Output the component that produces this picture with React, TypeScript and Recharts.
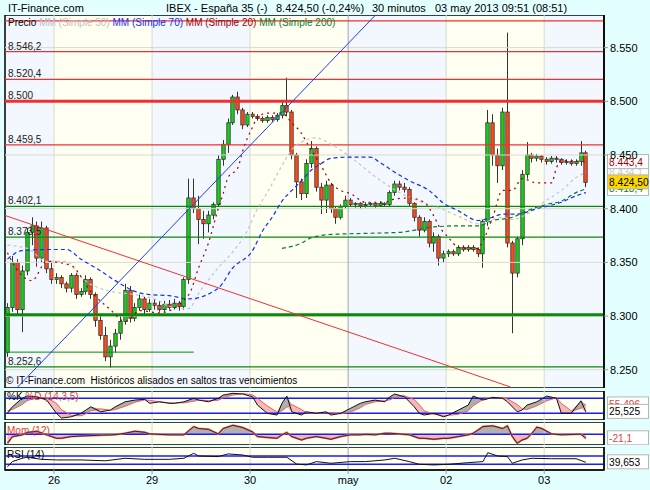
import React from "react";
import {
  ComposedChart,
  Bar,
  Line,
  Area,
  XAxis,
  YAxis,
  ReferenceLine,
  ReferenceArea,
} from "recharts";

const FONT = "'Liberation Sans', Arial, sans-serif";
const X_DOMAIN: [number, number] = [-0.5, 121.7];
const PRICE_DOMAIN: [number, number] = [8233, 8580.4];

// day boundaries (bar index) and axis labels
const dayTicks = [9.5, 29.5, 49.5, 69.5, 89.5, 109.5];
const dayLabels = ["26", "29", "30", "may", "02", "03"];
const dayEdges = [-0.5, 9.5, 29.5, 49.5, 69.5, 89.5, 109.5, 121.7];
const priceTicks = [8250, 8300, 8350, 8400, 8450, 8500, 8550];

// 30 minute candles
const opens = [
  8266, 8308, 8350, 8306, 8342, 8378, 8384, 8354, 8382, 8344, 8334, 8336, 8330, 8326, 8338, 8320, 8323, 8334, 8320, 8296,
  8282, 8262, 8272, 8284, 8295, 8324, 8298, 8308, 8316, 8306, 8312, 8310, 8306, 8311, 8308, 8312, 8309, 8334, 8410, 8400,
  8390, 8386, 8394, 8404, 8446, 8460, 8480, 8504, 8492, 8478, 8488, 8486, 8484, 8482, 8485, 8483, 8487, 8496, 8490, 8450,
  8425, 8414, 8442, 8456, 8420, 8408, 8422, 8400, 8392, 8402, 8408, 8404, 8405, 8403, 8404, 8405, 8403, 8405, 8404, 8415,
  8423, 8420, 8418, 8405, 8392, 8380, 8388, 8368, 8374, 8354, 8358, 8360, 8358, 8364, 8362, 8364, 8362, 8358, 8388, 8480,
  8450, 8440, 8490, 8368, 8340, 8372, 8432, 8450, 8447, 8449, 8446, 8444, 8447, 8446, 8443, 8444, 8442, 8444, 8452,
];
const highs = [
  8312, 8356, 8353, 8347, 8382, 8392, 8388, 8388, 8384, 8350, 8340, 8338, 8332, 8340, 8340, 8326, 8338, 8336, 8322, 8302,
  8290, 8278, 8288, 8300, 8330, 8328, 8312, 8320, 8318, 8316, 8316, 8314, 8314, 8315, 8316, 8314, 8336, 8428, 8428, 8412,
  8398, 8398, 8406, 8450, 8464, 8484, 8506, 8509, 8494, 8490, 8490, 8488, 8486, 8487, 8487, 8489, 8500, 8522, 8492, 8452,
  8428, 8446, 8463, 8458, 8424, 8426, 8424, 8402, 8404, 8412, 8410, 8406, 8406, 8406, 8406, 8406, 8407, 8406, 8417, 8426,
  8426, 8424, 8420, 8406, 8394, 8392, 8390, 8378, 8376, 8361, 8362, 8362, 8366, 8366, 8366, 8366, 8364, 8390, 8492, 8488,
  8456, 8494, 8564, 8370, 8374, 8436, 8462, 8452, 8451, 8450, 8448, 8449, 8449, 8447, 8446, 8446, 8446, 8463, 8454,
];
const lows = [
  8262, 8304, 8300, 8285, 8338, 8366, 8346, 8350, 8340, 8330, 8330, 8326, 8322, 8322, 8316, 8318, 8320, 8316, 8290, 8278,
  8258, 8252, 8266, 8278, 8292, 8294, 8295, 8305, 8302, 8304, 8306, 8304, 8304, 8306, 8306, 8305, 8306, 8330, 8396, 8367,
  8372, 8378, 8390, 8402, 8440, 8452, 8478, 8488, 8474, 8476, 8484, 8482, 8480, 8480, 8481, 8481, 8484, 8486, 8446, 8410,
  8408, 8410, 8438, 8416, 8395, 8396, 8396, 8386, 8390, 8400, 8402, 8401, 8400, 8401, 8402, 8401, 8402, 8402, 8402, 8412,
  8417, 8415, 8402, 8388, 8374, 8378, 8364, 8360, 8347, 8350, 8355, 8356, 8356, 8360, 8360, 8360, 8355, 8345, 8384, 8440,
  8424, 8436, 8364, 8284, 8336, 8366, 8428, 8443, 8444, 8443, 8441, 8442, 8443, 8441, 8441, 8440, 8440, 8440, 8420,
];
const closes = [
  8308, 8350, 8306, 8342, 8378, 8384, 8354, 8382, 8344, 8334, 8336, 8330, 8326, 8338, 8320, 8323, 8334, 8320, 8296, 8282,
  8262, 8272, 8284, 8295, 8324, 8298, 8308, 8316, 8306, 8312, 8310, 8306, 8311, 8308, 8312, 8309, 8334, 8410, 8400, 8390,
  8386, 8394, 8404, 8446, 8460, 8480, 8504, 8492, 8478, 8488, 8486, 8484, 8482, 8485, 8483, 8487, 8496, 8490, 8450, 8425,
  8414, 8442, 8456, 8420, 8408, 8422, 8400, 8392, 8402, 8408, 8404, 8405, 8403, 8404, 8405, 8403, 8405, 8404, 8415, 8423,
  8420, 8418, 8405, 8392, 8380, 8388, 8368, 8374, 8354, 8358, 8360, 8358, 8364, 8362, 8364, 8362, 8358, 8388, 8480, 8450,
  8440, 8490, 8368, 8340, 8372, 8432, 8450, 8447, 8449, 8446, 8444, 8447, 8446, 8443, 8444, 8442, 8444, 8452, 8424.5,
];

// moving averages: [bar index, value]
const ma20Pts: [number, number][] = [
  [0, 8359], [1, 8350], [5, 8333], [8, 8351], [13, 8347], [17, 8323], [21, 8306], [24, 8295], [27, 8305], [31, 8303],
  [37, 8320], [39, 8345], [41, 8368], [43, 8400], [44, 8414], [45, 8429], [47, 8438], [48, 8454], [50, 8476], [51, 8485],
  [53, 8489], [56, 8489], [58, 8480], [60, 8470], [61, 8462], [64, 8440], [66, 8424], [68, 8417], [70, 8414], [73, 8406],
  [77, 8406], [79, 8409], [82, 8410], [85, 8406], [87, 8393], [88, 8384], [90, 8373], [92, 8364], [94, 8363], [96, 8363],
  [97, 8370], [99, 8392], [101, 8417], [103, 8417], [105, 8428], [108, 8424], [111, 8424], [112, 8438], [113, 8445], [118, 8443.4],
];
const ma50Pts: [number, number][] = [
  [0, 8366], [4, 8363], [8, 8351], [12, 8351], [15, 8336], [21, 8323], [26, 8320], [31, 8314], [33, 8309], [37, 8307],
  [39, 8321], [43, 8345], [46, 8360], [49, 8380], [51, 8400], [53, 8415], [56, 8440], [58, 8455], [60, 8462], [63, 8466],
  [66, 8460], [70, 8448], [75, 8430], [80, 8415], [84, 8407], [88, 8401], [92, 8393], [96, 8386], [101, 8392], [103, 8390],
  [106, 8395], [109, 8405], [113, 8417], [116, 8429], [118, 8434],
];
const ma70Pts: [number, number][] = [
  [0, 8353], [3, 8361], [9, 8362], [12, 8362], [15, 8353], [19, 8342], [22, 8333], [26, 8323], [29, 8320], [33, 8319],
  [37, 8316], [43, 8326], [46, 8345], [50, 8361], [52, 8379], [54, 8392], [56, 8407], [58, 8417], [60, 8426], [62, 8436],
  [64, 8442], [66, 8447], [70, 8448], [74, 8448], [76, 8443], [79, 8434], [82, 8426], [86, 8417], [89, 8405], [92, 8398],
  [96, 8389], [99, 8392], [101, 8395], [104, 8395], [108, 8400], [113, 8406], [116, 8412], [118, 8415],
];
const ma200Pts: [number, number][] = [
  [56, 8363], [60, 8368], [62, 8373], [66, 8376], [73, 8377], [80, 8378], [87, 8383], [92, 8384], [96, 8384], [99, 8389],
  [103, 8392], [106, 8398], [110, 8404], [113, 8407], [116, 8415], [118, 8418.4],
];

// support / resistance levels
const redLevels = [8575, 8546.2, 8520.4, 8459.5];
const greenLevels = [8402.1, 8373.5, 8252.6];
const levelLabels: [number, string][] = [
  [8546.2, "8.546,2"], [8520.4, "8.520,4"], [8500, "8.500"], [8459.5, "8.459,5"],
  [8402.1, "8.402,1"], [8373.5, "8.373,5"], [8252.6, "8.252,6"],
];

// stochastic %K / %D
const stochIdx = [
  0, 1, 3, 4, 6, 8, 10, 11, 13, 15, 16, 17, 19, 21, 22, 24, 26, 28, 29, 31, 33, 34, 36, 38, 39, 41, 43, 44, 46, 48, 50, 51,
  53, 55, 56, 57, 58, 60, 61, 63, 65, 66, 68, 70, 72, 73, 75, 77, 78, 79, 81, 83, 84, 85, 87, 89, 90, 92, 94, 95, 97, 99,
  101, 102, 104, 105, 106, 108, 110, 112, 113, 115, 117, 118,
];
const stochK = [
  20, 46, 80, 89, 86, 73, 20, 1, 6, 20, 33, 46, 26, 33, 46, 66, 73, 76, 60, 66, 60, 60, 66, 80, 73, 66, 80, 93, 100, 97, 86, 53,
  20, 13, 60, 89, 26, 13, 26, 20, 26, 13, 20, 40, 60, 66, 73, 66, 86, 97, 86, 46, 20, 13, 20, 6, 13, 33, 53, 89, 73, 84,
  80, 66, 26, 33, 53, 66, 89, 80, 20, 20, 70, 25.5,
];
const stochD = [
  30, 35, 55, 70, 84, 82, 60, 35, 12, 10, 18, 30, 38, 32, 35, 48, 64, 74, 72, 66, 62, 61, 62, 68, 73, 71, 72, 82, 93, 99, 94, 80,
  50, 25, 30, 45, 55, 35, 22, 20, 22, 22, 18, 25, 42, 55, 66, 70, 74, 83, 90, 75, 55, 30, 16, 12, 12, 16, 30, 50, 75, 82,
  80, 78, 55, 38, 35, 50, 70, 82, 60, 30, 40, 55.5,
];

// momentum (12)
const momPts: [number, number][] = [
  [0, -47], [1, -13], [3, -3], [4, 9], [6, 16], [8, -3], [10, -21], [11, -21], [13, -12], [15, -9], [19, -5], [22, -2],
  [24, 5], [26, 16], [28, 10], [29, 2], [33, -3], [36, -3], [38, 40], [39, 30], [41, 26], [43, 2], [44, 30], [46, 47],
  [48, 35], [50, 12], [51, -12], [53, -17], [55, -21], [56, -3], [57, 9], [58, -12], [60, -30], [61, -21], [63, -12],
  [65, -21], [66, -26], [68, -12], [70, -3], [72, -3], [73, 0], [75, -3], [77, 5], [78, 5], [80, 2], [82, -3], [84, -21],
  [85, -21], [87, -26], [89, -21], [90, -21], [92, -12], [94, -3], [95, 5], [97, 40], [99, 44], [101, 30], [102, 44],
  [103, -12], [104, -47], [105, -30], [106, -21], [107, 5], [108, 37], [109, 30], [111, 2], [113, -3], [116, 0], [117, 0],
  [118, -21.1],
];

// RSI (14)
const rsiPts: [number, number][] = [
  [0, 18], [1, 43], [3, 59], [4, 64], [7, 54], [10, 51], [15, 51], [20, 47], [24, 59], [28, 54], [33, 54], [36, 59],
  [38, 83], [39, 70], [43, 67], [45, 80], [48, 75], [50, 64], [53, 64], [57, 64], [59, 31], [61, 27], [63, 43], [66, 35],
  [70, 43], [73, 43], [77, 51], [79, 59], [82, 43], [84, 30], [87, 27], [90, 30], [94, 38], [97, 43], [98, 86], [100, 70],
  [102, 67], [103, 35], [105, 51], [107, 59], [111, 57], [116, 57], [118, 39.653],
];

const lookup = (pts: [number, number][]) => new Map(pts.map(([i, v]) => [i, v]));
const ma20 = lookup(ma20Pts);
const ma50 = lookup(ma50Pts);
const ma70 = lookup(ma70Pts);
const ma200 = lookup(ma200Pts);

const rows = opens.map((o, i) => ({
  i,
  o,
  h: highs[i],
  l: lows[i],
  c: closes[i],
  ma20: ma20.get(i) ?? null,
  ma50: ma50.get(i) ?? null,
  ma70: ma70.get(i) ?? null,
  ma200: ma200.get(i) ?? null,
}));

const stochRows = stochIdx.map((i, n) => {
  const k = stochK[n];
  const d = stochD[n];
  return { i, k, d, up: k >= d ? [d, k] : [d, d], dn: k < d ? [k, d] : [d, d] };
});
const momRows = momPts.map(([i, m]) => ({ i, m, pos: Math.max(m, 0), neg: Math.min(m, 0) }));
const rsiRows = rsiPts.map(([i, r]) => ({ i, r }));

const BLUE_BG = "#f3f8ff";
const CREAM_BG = "#fffff2";
const GRID = "#d9d9cf";
const MONTH_GRID = "#a4a4ac";

const Candle = (props: any) => {
  const { x, y, width, height, payload } = props;
  if (!payload || payload.h == null) return null;
  const top = Math.min(y, y + height);
  const bottom = Math.max(y, y + height);
  const span = payload.h - payload.l || 1;
  const toY = (v: number) => top + ((payload.h - v) / span) * (bottom - top);
  const cx = Math.round(x + width / 2) + 0.5;
  const up = payload.c >= payload.o;
  const y1 = toY(Math.max(payload.o, payload.c));
  const y2 = toY(Math.min(payload.o, payload.c));
  return (
    <g>
      <line x1={cx} x2={cx} y1={top} y2={bottom} stroke="#333" strokeWidth={1} />
      <rect
        x={cx - 1.7}
        y={y1}
        width={3.4}
        height={Math.max(1, y2 - y1)}
        fill={up ? "#19d119" : "#ff4a1a"}
        stroke="#333"
        strokeWidth={0.8}
      />
    </g>
  );
};

const LevelLabel = ({ viewBox, text }: any) => (
  <text x={viewBox.x + 3} y={viewBox.y - 2} fontSize={10} fontFamily={FONT} fill="#222">
    {text}
  </text>
);

const ValueBox = ({ viewBox, text, color, bg }: any) => (
  <g>
    <rect x={607.5} y={viewBox.y - 7.5} width={41} height={14} fill={bg} stroke="#b8b8b0" />
    <text x={609} y={viewBox.y + 3.5} fontSize={10.2} fontFamily={FONT} fill={color}>
      {text}
    </text>
  </g>
);

const dayBands = (y1: number, y2: number) =>
  dayEdges.slice(0, -1).map((x1, n) => (
    <ReferenceArea
      key={"band" + n}
      x1={x1}
      x2={dayEdges[n + 1]}
      y1={y1}
      y2={y2}
      fill={n % 2 === 0 ? BLUE_BG : CREAM_BG}
      fillOpacity={1}
      stroke="none"
      ifOverflow="hidden"
    />
  ));

const dayLines = () =>
  dayTicks.map((t, n) => (
    <ReferenceLine key={"vl" + n} x={t} stroke={dayLabels[n] === "may" ? MONTH_GRID : GRID} strokeWidth={1} />
  ));

const frame = (y1: number, y2: number) => (
  <ReferenceArea x1={X_DOMAIN[0]} x2={X_DOMAIN[1]} y1={y1} y2={y2} fill="none" stroke="#000" strokeWidth={1.5} />
);

const axisTick = { fontSize: 11, fill: "#000", fontFamily: FONT };

function PriceChart() {
  return (
    <ComposedChart width={650} height={373} data={rows} margin={{ top: 0, right: 0, bottom: 0, left: 5 }}>
      <XAxis type="number" dataKey="i" domain={X_DOMAIN} hide allowDataOverflow />
      <YAxis
        orientation="right"
        width={46}
        domain={PRICE_DOMAIN}
        ticks={priceTicks}
        allowDataOverflow
        tickFormatter={(v: number) => (v / 1000).toFixed(3)}
        tick={axisTick}
        tickSize={4}
        tickLine={{ stroke: "#999" }}
        axisLine={{ stroke: "#000", strokeWidth: 1.5 }}
      />
      {dayBands(PRICE_DOMAIN[0], PRICE_DOMAIN[1])}
      {priceTicks.map((p) => (
        <ReferenceLine key={"g" + p} y={p} stroke={GRID} />
      ))}
      {dayLines()}
      {redLevels.map((p) => (
        <ReferenceLine key={"r" + p} y={p} stroke="#f03030" strokeWidth={1.2} />
      ))}
      <ReferenceLine y={8500} stroke="#f03030" strokeWidth={3} />
      {greenLevels.map((p) => (
        <ReferenceLine key={"gr" + p} y={p} stroke="#0a8a0a" strokeWidth={1.2} />
      ))}
      <ReferenceLine y={8301.2} stroke="#0a8a0a" strokeWidth={3} />
      <ReferenceLine
        segment={[
          { x: -0.5, y: 8266.4 },
          { x: 38, y: 8266.4 },
        ]}
        stroke="#0a8a0a"
        strokeWidth={1}
      />
      {levelLabels.map(([p, t]) => (
        <ReferenceLine key={"ll" + p} y={p} stroke="none" label={<LevelLabel text={t} />} />
      ))}
      <Line dataKey="ma50" stroke="#c4c4c4" strokeWidth={1.2} strokeDasharray="3 3" dot={false} connectNulls type="monotone" isAnimationActive={false} />
      <Line dataKey="ma70" stroke="#1030ff" strokeWidth={1.2} strokeDasharray="4 3" dot={false} connectNulls type="monotone" isAnimationActive={false} />
      <Line dataKey="ma200" stroke="#0b7a2a" strokeWidth={1.2} strokeDasharray="4 3" dot={false} connectNulls type="monotone" isAnimationActive={false} />
      <Line dataKey="ma20" stroke="#a00000" strokeWidth={1.2} strokeDasharray="2 4" dot={false} connectNulls type="monotone" isAnimationActive={false} />
      <Bar dataKey={(d: any) => [d.l, d.h]} barSize={4} shape={<Candle />} isAnimationActive={false} />
      <ReferenceLine
        segment={[
          { x: 1.9, y: 8233 },
          { x: 75.1, y: 8580.4 },
        ]}
        stroke="#1a3cff"
        strokeWidth={1}
      />
      <ReferenceLine
        segment={[
          { x: -0.5, y: 8393.7 },
          { x: 102.6, y: 8234 },
        ]}
        stroke="#f03030"
        strokeWidth={1}
      />
      {frame(PRICE_DOMAIN[0], PRICE_DOMAIN[1])}
      <ReferenceLine y={8434} stroke="none" label={<ValueBox text="8.434,1" color="#c8c8c8" bg="#fff" />} />
      <ReferenceLine y={8418.4} stroke="none" label={<ValueBox text="8.418,4" color="#0b7a2a" bg="#fff" />} />
      <ReferenceLine y={8443.4} stroke="none" label={<ValueBox text="8.443,4" color="#a00000" bg="#fff" />} />
      <ReferenceLine y={8424.5} stroke="none" label={<ValueBox text="8.424,50" color="#000" bg="#ffd700" />} />
    </ComposedChart>
  );
}

function StochChart() {
  const dom: [number, number] = [-6.8, 109.2];
  return (
    <ComposedChart width={650} height={29} data={stochRows} margin={{ top: 0, right: 0, bottom: 0, left: 5 }}>
      <XAxis type="number" dataKey="i" domain={X_DOMAIN} hide allowDataOverflow />
      <YAxis orientation="right" width={46} domain={dom} ticks={[100]} allowDataOverflow tick={{ ...axisTick, dy: 2 }} tickSize={4} tickLine={{ stroke: "#999" }} axisLine={{ stroke: "#000" }} />
      <ReferenceArea x1={X_DOMAIN[0]} x2={X_DOMAIN[1]} y1={dom[0]} y2={dom[1]} fill={CREAM_BG} fillOpacity={1} stroke="none" />
      {dayLines()}
      <Area dataKey="up" stroke="none" fill="#9a9a9a" fillOpacity={0.8} isAnimationActive={false} />
      <Area dataKey="dn" stroke="none" fill="#f2b0b0" fillOpacity={0.9} isAnimationActive={false} />
      <ReferenceLine y={80} stroke="#1a1aff" strokeWidth={1.5} />
      <ReferenceLine y={20} stroke="#1a1aff" strokeWidth={1.5} />
      <Line dataKey="d" stroke="#f06060" strokeWidth={1} dot={false} isAnimationActive={false} />
      <Line dataKey="k" stroke="#111" strokeWidth={1} dot={false} isAnimationActive={false} />
      {frame(dom[0], dom[1])}
      <ReferenceLine y={55.496} stroke="none" label={<ValueBox text="55,496" color="#e04040" bg="#fff" />} />
      <ReferenceLine y={25.525} stroke="none" label={<ValueBox text="25,525" color="#000" bg="#fff" />} />
    </ComposedChart>
  );
}

function MomChart() {
  const dom: [number, number] = [-56, 64];
  return (
    <ComposedChart width={650} height={23} data={momRows} margin={{ top: 0, right: 0, bottom: 0, left: 5 }}>
      <XAxis type="number" dataKey="i" domain={X_DOMAIN} hide allowDataOverflow />
      <YAxis orientation="right" width={46} domain={dom} ticks={[]} allowDataOverflow axisLine={{ stroke: "#000" }} />
      <ReferenceArea x1={X_DOMAIN[0]} x2={X_DOMAIN[1]} y1={dom[0]} y2={dom[1]} fill={CREAM_BG} fillOpacity={1} stroke="none" />
      {dayLines()}
      <Area dataKey="pos" baseValue={0} stroke="none" fill="#a8a8a8" fillOpacity={0.9} isAnimationActive={false} />
      <Area dataKey="neg" baseValue={0} stroke="none" fill="#f2b0b0" fillOpacity={0.9} isAnimationActive={false} />
      <ReferenceLine y={0} stroke="#1a1aff" strokeWidth={1.5} />
      <Line dataKey="m" stroke="#f07070" strokeWidth={2} dot={false} isAnimationActive={false} />
      <Line dataKey="m" stroke="#111" strokeWidth={0.8} dot={false} isAnimationActive={false} />
      {frame(dom[0], dom[1])}
      <ReferenceLine y={-21.1} stroke="none" label={<ValueBox text="-21,1" color="#e04040" bg="#fff" />} />
    </ComposedChart>
  );
}

function RsiChart() {
  const dom: [number, number] = [2.6, 113.4];
  return (
    <ComposedChart width={650} height={43} data={rsiRows} margin={{ top: 0, right: 0, bottom: 0, left: 5 }}>
      <XAxis
        type="number"
        dataKey="i"
        domain={X_DOMAIN}
        allowDataOverflow
        ticks={dayTicks}
        tickFormatter={(v: number) => dayLabels[dayTicks.indexOf(v)] ?? ""}
        tick={axisTick}
        tickSize={4}
        tickLine={{ stroke: "#999" }}
        axisLine={{ stroke: "#000" }}
        height={20}
      />
      <YAxis orientation="right" width={46} domain={dom} ticks={[100]} allowDataOverflow tick={{ ...axisTick, dy: 2 }} tickSize={4} tickLine={{ stroke: "#999" }} axisLine={{ stroke: "#000" }} />
      <ReferenceArea x1={X_DOMAIN[0]} x2={X_DOMAIN[1]} y1={dom[0]} y2={dom[1]} fill={CREAM_BG} fillOpacity={1} stroke="none" />
      {dayLines()}
      <ReferenceLine y={70} stroke="#1a1aff" strokeWidth={1.5} />
      <ReferenceLine y={30} stroke="#1a1aff" strokeWidth={1.5} />
      <Line dataKey="r" stroke="#111" strokeWidth={1} dot={false} isAnimationActive={false} />
      {frame(dom[0], dom[1])}
      <ReferenceLine y={39.653} stroke="none" label={<ValueBox text="39,653" color="#000" bg="#fff" />} />
    </ComposedChart>
  );
}

const abs = (left: number, top: number, extra: React.CSSProperties = {}): React.CSSProperties => ({
  position: "absolute",
  left,
  top,
  whiteSpace: "pre",
  lineHeight: "12px",
  ...extra,
});

export default function App() {
  return (
    <div
      style={{
        position: "absolute",
        left: 0,
        top: 0,
        width: 650,
        height: 490,
        background: "#e4ffff",
        fontFamily: FONT,
        overflow: "hidden",
      }}
    >
      <div style={abs(8, 2, { fontSize: 11 })}>IT-Finance.com</div>
      <div style={abs(166, 2, { fontSize: 11 })}>IBEX - España 35 (-)</div>
      <div style={abs(276, 2, { fontSize: 11 })}>8.424,50 (-0,24%)</div>
      <div style={abs(372, 2, { fontSize: 11 })}>30 minutos</div>
      <div style={abs(435, 2, { fontSize: 11 })}>03 may 2013 09:51 (08:51)</div>

      <div style={abs(0, 15)}>
        <PriceChart />
      </div>
      <div style={abs(0, 391)}>
        <StochChart />
      </div>
      <div style={abs(0, 422)}>
        <MomChart />
      </div>
      <div style={abs(0, 447)}>
        <RsiChart />
      </div>

      <div style={abs(8, 17, { fontSize: 10 })}>
        <span style={{ color: "#000" }}>Precio </span>
        <span style={{ color: "#c0c0c0" }}>MM (Simple 50) </span>
        <span style={{ color: "#1030ff" }}>MM (Simple 70) </span>
        <span style={{ color: "#a00000" }}>MM (Simple 20) </span>
        <span style={{ color: "#0b7a2a" }}>MM (Simple 200)</span>
      </div>
      <div style={abs(6, 375, { fontSize: 10 })}>© IT-Finance.com  Históricos alisados en saltos tras vencimientos</div>
      <div style={abs(7, 391, { fontSize: 10 })}>
        <span style={{ color: "#000" }}>%K </span>
        <span style={{ color: "#e04040" }}>%D (14,3,5)</span>
      </div>
      <div style={abs(7, 425, { fontSize: 10, color: "#e04040" })}>Mom (12)</div>
      <div style={abs(7, 449, { fontSize: 10 })}>RSI (14)</div>
    </div>
  );
}
